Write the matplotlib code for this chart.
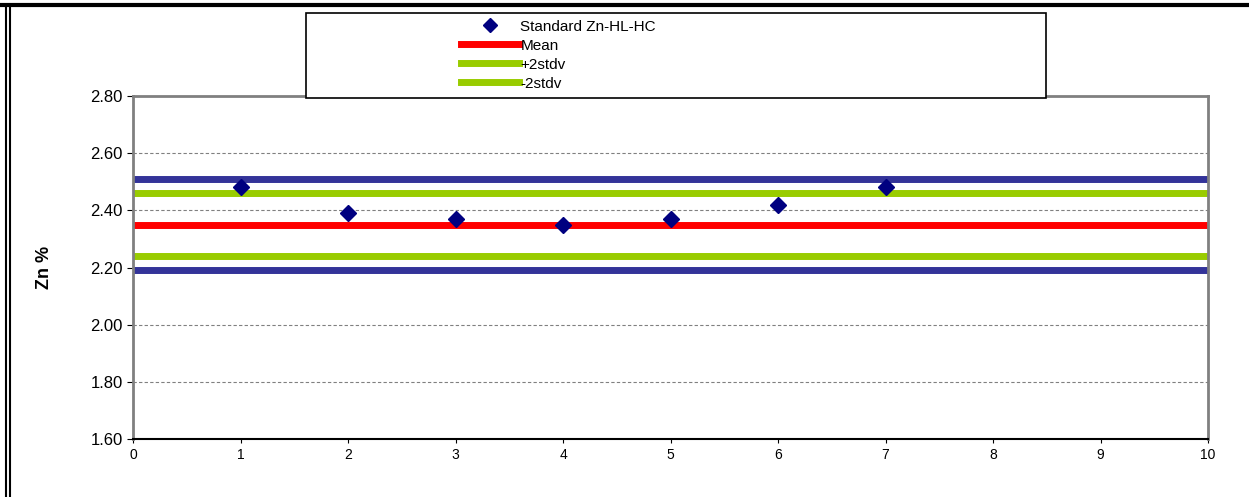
import matplotlib.pyplot as plt
from matplotlib.lines import Line2D
from matplotlib.patches import Rectangle
from matplotlib.ticker import FormatStrFormatter

plt.rcParams['font.family'] = ['Liberation Sans', 'DejaVu Sans']

runs = [1, 2, 3, 4, 5, 6, 7]
zn_pct = [2.48, 2.39, 2.37, 2.35, 2.37, 2.42, 2.48]
mean_val = 2.35
plus_2sd = 2.46
minus_2sd = 2.24
plus_3sd = 2.51
minus_3sd = 2.19

labels = ["Standard Zn-HL-HC", "Mean", "+2stdv", "-2stdv"]

navy = "#000080"
blue = "#333399"
green = "#99CC00"
red = "#FF0000"

fig = plt.figure(figsize=(12.49, 4.97), dpi=100)
ax = fig.add_axes([133 / 1249, 58 / 497, 1075 / 1249, 343 / 497])

ax.axhline(plus_3sd, color=blue, lw=5, zorder=2)
ax.axhline(minus_3sd, color=blue, lw=5, zorder=2)
ax.axhline(plus_2sd, color=green, lw=5, zorder=2)
ax.axhline(minus_2sd, color=green, lw=5, zorder=2)
ax.axhline(mean_val, color=red, lw=5, zorder=2)
ax.plot(runs, zn_pct, 'D', color=navy, ms=8, zorder=3, linestyle='none')

ax.set_xlim(0, 10)
ax.set_ylim(1.6, 2.8)
ax.set_xticks(range(0, 11))
ax.set_yticks([1.6, 1.8, 2.0, 2.2, 2.4, 2.6, 2.8])
ax.yaxis.set_major_formatter(FormatStrFormatter('%.2f'))
ax.grid(axis='y', color='#808080', linestyle=(0, (3, 2)), lw=0.8, zorder=1)
ax.tick_params(axis='y', labelsize=12, length=4, direction='out', colors='black')
ax.tick_params(axis='x', labelsize=10, length=3, direction='out')
ax.set_ylabel("Zn %", fontsize=13, fontweight='bold', labelpad=27)

for side in ['top', 'right', 'left']:
    ax.spines[side].set_color('#808080')
    ax.spines[side].set_linewidth(2)
ax.spines['bottom'].set_color('black')
ax.spines['bottom'].set_linewidth(1.5)

# legend box
fig.patches.append(Rectangle((306 / 1249, 1 - 98 / 497), 740 / 1249, 85 / 497,
                             transform=fig.transFigure, facecolor='white',
                             edgecolor='black', lw=1.2, zorder=5))
handles = [
    Line2D([], [], color=navy, marker='D', ms=7, linestyle='none'),
    Line2D([], [], color=red, lw=5),
    Line2D([], [], color=green, lw=5),
    Line2D([], [], color=green, lw=5),
]
leg = fig.legend(handles, labels, loc='upper left',
                 bbox_to_anchor=(450 / 1249, 1 - 9 / 497), frameon=False,
                 fontsize=11, handlelength=3.8, handletextpad=0.1,
                 labelspacing=0.33, borderpad=0.2)
leg.set_zorder(6)

# outer frame of the sheet
fig.add_artist(Line2D([0, 1], [1 - 5 / 497, 1 - 5 / 497], color='black', lw=3,
                      transform=fig.transFigure))
fig.add_artist(Line2D([6 / 1249, 6 / 1249], [0, 1 - 5 / 497], color='black', lw=1.5,
                      transform=fig.transFigure))
fig.add_artist(Line2D([10 / 1249, 10 / 1249], [0, 1 - 5 / 497], color='black', lw=1.5,
                      transform=fig.transFigure))

fig.savefig("out.png", dpi=100)
